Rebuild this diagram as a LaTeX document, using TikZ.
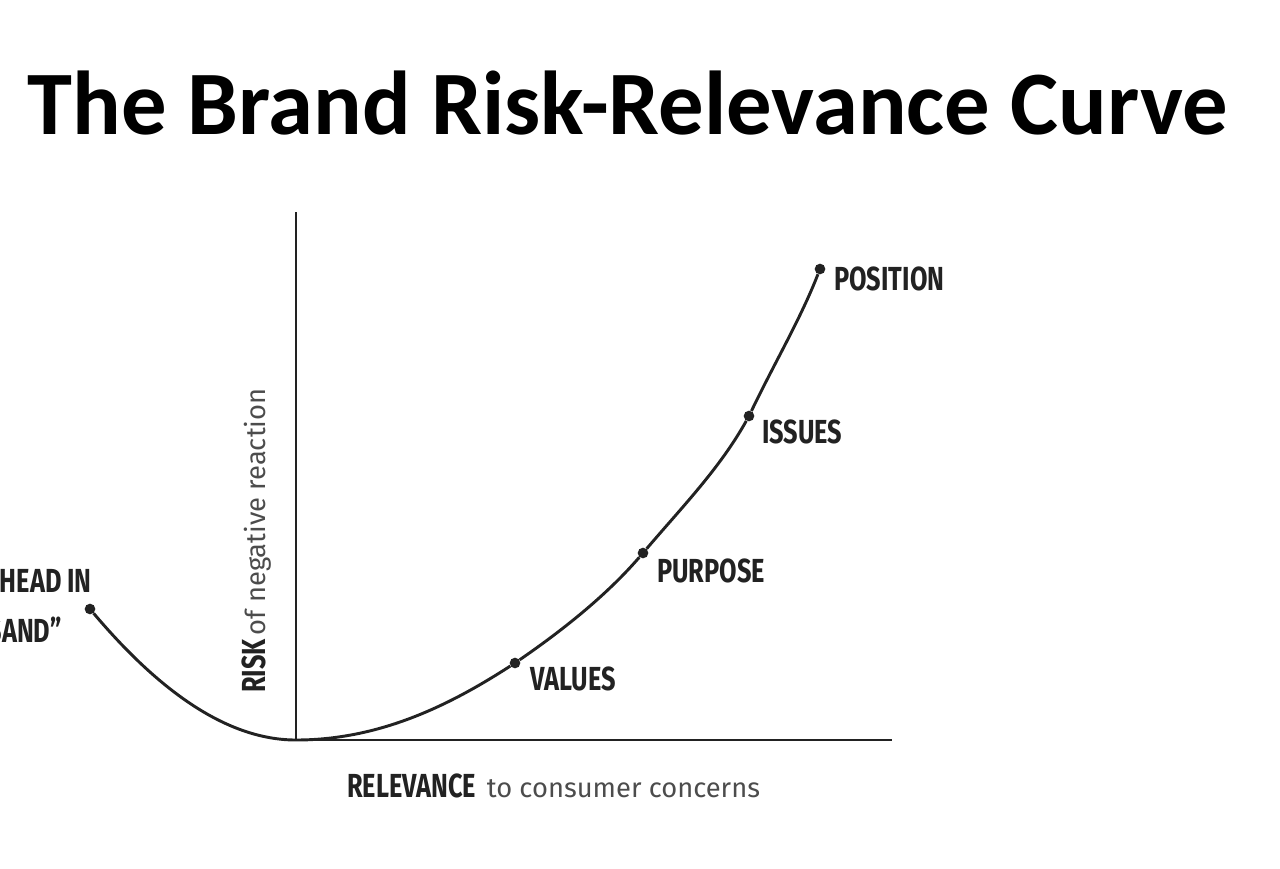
\documentclass[tikz,border=0pt]{standalone}
\usepackage{fontspec}
\usepackage{graphicx}
\setmainfont{Carlito}
\newfontfamily\lab{Fira Sans}
\definecolor{ink}{HTML}{222222}
\tikzset{
  lbl/.style={font=\lab\bfseries\fontsize{25}{25}\selectfont, text=ink, inner sep=0pt},
  dotp/.style={circle, fill=ink, inner sep=0pt, minimum size=8pt},
  axis/.style={line width=2.2pt, draw=ink},
  crv/.style={line width=2.2pt, draw=ink}
}
\newcommand{\cond}[1]{\scalebox{0.76}[1]{#1}}
\begin{document}
\begin{tikzpicture}[x=0.75pt,y=-0.75pt]
\useasboundingbox (0,0) rectangle (1280,868);
\node[font=\bfseries\fontsize{68}{68}\selectfont, inner sep=0pt] (title) at (628,103) {The Brand Risk-Relevance Curve};
\coordinate (top) at (296,212);
\coordinate (o) at (296,740);
\coordinate (xe) at (892,740);
\draw[axis] (top) -- (o) -- (xe);
\node[dotp] (hs) at (90,609) {};
\node[dotp] (va) at (515,663) {};
\node[dotp] (pu) at (643,553) {};
\node[dotp] (is) at (749,416) {};
\node[dotp] (po) at (820,269) {};
\draw[crv] (hs) .. controls (150,680) and (220,740) .. (o);
\draw[crv] (o) .. controls (380,740) and (450,705) .. (va)
  .. controls (560,632) and (605,597) .. (pu)
  .. controls (683,506) and (720,468) .. (is)
  .. controls (776,360) and (800,320) .. (po);
\node[lbl, anchor=west] (tpo) at (834,279) {\cond{POSITION}};
\node[lbl, anchor=west] (tis) at (762,432) {\cond{ISSUES}};
\node[lbl, anchor=west] (tpu) at (657,571) {\cond{PURPOSE}};
\node[lbl, anchor=west] (tva) at (530,679) {\cond{VALUES}};
\node[lbl, anchor=east] (th1) at (92,580) {\cond{“HEAD IN}};
\node[lbl, anchor=east] (th2) at (62,630) {\cond{SAND”}};
\node[lbl, anchor=west] (trel) at (347,786) {\cond{RELEVANCE}\hspace{8pt}{\lab\mdseries\fontsize{20.5}{20}\selectfont\color{black!70}to consumer concerns}};
\node[lbl, anchor=west, rotate=90] (trisk) at (257,693) {\cond{RISK}\hspace{3pt}{\lab\mdseries\fontsize{20.5}{20}\selectfont\color{black!70}of negative reaction}};
\end{tikzpicture}
\end{document}
